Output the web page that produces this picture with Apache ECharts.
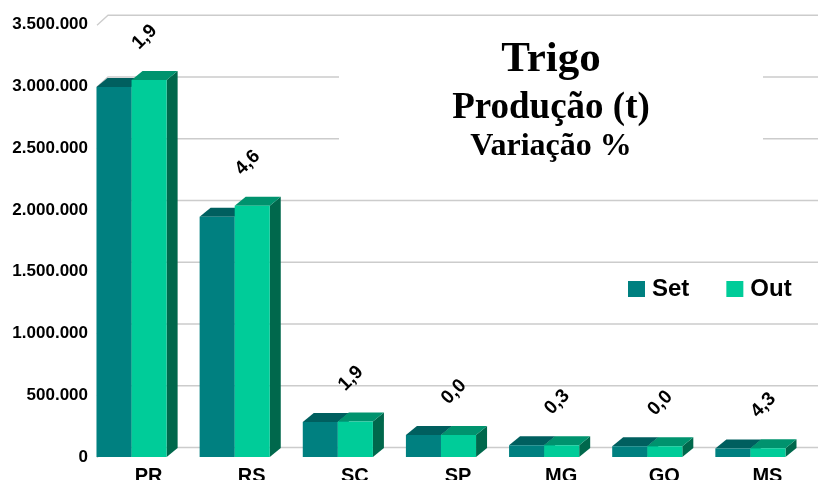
<!DOCTYPE html>
<html>
<head>
<meta charset="utf-8">
<title>Trigo - Produção (t)</title>
<script src="https://cdn.jsdelivr.net/npm/echarts@6/dist/echarts.min.js"></script>
<style>
html, body { margin: 0; padding: 0; background: #fff; }
#chart { width: 818px; height: 480px; }
</style>
</head>
<body>
<div id="chart"></div>
<script>
// dados (t)
const categories = ['PR', 'RS', 'SC', 'SP', 'MG', 'GO', 'MS'];
const setValues = [2995000, 1946000, 283000, 178000, 95000, 88000, 68000];
const outValues = [3052000, 2035000, 288000, 178000, 95000, 88000, 71000];
const variacao = [1.9, 4.6, 1.9, 0.0, 0.3, 0.0, 4.3];
const yTicks = [0, 500000, 1000000, 1500000, 2000000, 2500000, 3000000, 3500000];

const chart = echarts.init(document.getElementById('chart'));

// profundidade do efeito 3D
const dx = 11, dy = 9;
const sans = '"Liberation Sans", Arial, sans-serif';
const serif = '"Liberation Serif", "Times New Roman", serif';

function fmt(v) {
    return String(v).replace(/\B(?=(\d{3})+(?!\d))/g, '.');
}

// desenha uma coluna 3D (frente, topo, lateral)
function barItem(offset, front, top, side, withLabel) {
    return function (params, api) {
        const i = api.value(0);
        const base = api.coord([i, 0]);
        const head = api.coord([i, api.value(1)]);
        const band = api.size([1, 0])[0];
        const w = band * 0.34;
        const x0 = base[0] + band * offset;
        const yb = base[1], yt = head[1];
        const children = [
            { type: 'polygon', shape: { points: [[x0 + w, yt], [x0 + w + dx, yt - dy], [x0 + w + dx, yb - dy], [x0 + w, yb]] }, style: { fill: side } },
            { type: 'polygon', shape: { points: [[x0, yt], [x0 + w, yt], [x0 + w + dx, yt - dy], [x0 + dx, yt - dy]] }, style: { fill: top } },
            { type: 'rect', shape: { x: x0, y: yt, width: w, height: yb - yt }, style: { fill: front } }
        ];
        if (withLabel) {
            children.push({
                type: 'text',
                x: base[0] - 4,
                y: yt - 43,
                rotation: Math.PI / 4,
                style: {
                    text: variacao[params.dataIndex].toFixed(1).replace('.', ','),
                    fill: '#000',
                    font: 'bold 19px ' + sans,
                    align: 'center',
                    verticalAlign: 'middle'
                }
            });
        }
        return { type: 'group', children: children };
    };
}

const option = {
    animation: false,
    backgroundColor: '#fff',
    title: [
        { text: 'Trigo', left: 551, top: 38, textAlign: 'center', padding: 0,
          textStyle: { fontFamily: serif, fontWeight: 'bold', fontSize: 43, color: '#000' } },
        { text: 'Produção (t)', left: 551, top: 90, textAlign: 'center', padding: 0,
          textStyle: { fontFamily: serif, fontWeight: 'bold', fontSize: 37, color: '#000' } },
        { text: 'Variação %', left: 551, top: 131, textAlign: 'center', padding: 0,
          textStyle: { fontFamily: serif, fontWeight: 'bold', fontSize: 32, color: '#000' } }
    ],
    graphic: [
        // fundo branco da caixa do título
        { type: 'rect', left: 339, top: 22, z: 5, silent: true,
          shape: { width: 424, height: 150 }, style: { fill: '#fff' } }
    ],
    legend: {
        data: ['Set', 'Out'],
        left: 628,
        top: 277,
        padding: 0,
        icon: 'rect',
        itemWidth: 17,
        itemHeight: 16,
        itemGap: 37,
        textStyle: { fontFamily: sans, fontWeight: 'bold', fontSize: 24, color: '#000', padding: [0, 0, 0, 2] }
    },
    grid: { left: 97, right: -1, top: 24.75, bottom: 23, containLabel: false, outerBoundsMode: 'none' },
    xAxis: {
        type: 'category',
        data: categories,
        axisLine: { show: false },
        axisTick: { show: false },
        axisLabel: { interval: 0, margin: 9, fontFamily: sans, fontWeight: 'bold', fontSize: 20, color: '#000' }
    },
    yAxis: {
        type: 'value',
        min: 0,
        max: 3500000,
        interval: 500000,
        axisLine: { show: false },
        axisTick: { show: false },
        splitLine: { show: false },
        axisLabel: { margin: 9, fontFamily: sans, fontWeight: 'bold', fontSize: 17, color: '#000', formatter: fmt }
    },
    series: [
        {
            // linhas de grade na parede do fundo
            type: 'custom',
            z: 1,
            silent: true,
            data: yTicks.map(v => [0, v]),
            renderItem: function (params, api) {
                const cs = params.coordSys;
                const y = api.coord([0, api.value(1)])[1];
                return {
                    type: 'polyline',
                    shape: { points: [[cs.x, y + 0.5], [cs.x + dx, y - 10 + 0.5], [cs.x + cs.width + 20, y - 10 + 0.5]] },
                    style: { stroke: '#cccccc', lineWidth: 1.3, fill: null }
                };
            }
        },
        {
            name: 'Set',
            type: 'custom',
            z: 2,
            itemStyle: { color: '#008080' },
            data: setValues.map((v, i) => [i, v]),
            renderItem: barItem(-0.505, '#008080', '#005f5f', '#005a5a', false)
        },
        {
            name: 'Out',
            type: 'custom',
            z: 3,
            itemStyle: { color: '#00cc99' },
            data: outValues.map((v, i) => [i, v]),
            renderItem: barItem(-0.165, '#00cc99', '#00936e', '#00684c', true)
        }
    ]
};

chart.setOption(option);
</script>
</body>
</html>
